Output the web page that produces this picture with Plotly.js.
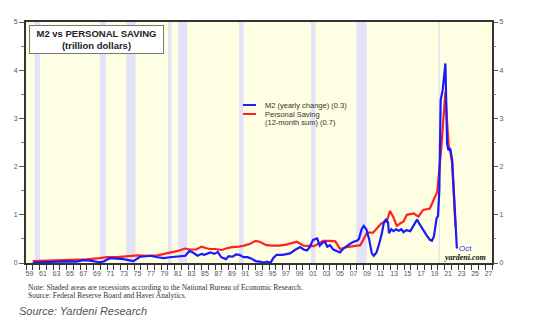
<!DOCTYPE html>
<html>
<head>
<meta charset="utf-8">
<script src="https://cdn.plot.ly/plotly-3.0.1.min.js"></script>
<style>html,body{margin:0;padding:0;background:#fff;}#chart{width:538px;height:336px;}</style>
</head>
<body>
<div id="chart"></div>
<script>
// M2 yearly change (trillion dollars), decimal years
const m2Years = [1960.0,1961.5,1963.0,1965.0,1966.5,1967.5,1968.5,1969.9,1970.5,1971.4,1972.5,1973.4,1974.9,1975.9,1976.8,1977.4,1978.5,1979.4,1980.3,1980.9,1981.7,1982.6,1983.2,1983.7,1984.4,1985.0,1985.4,1986.3,1986.9,1987.4,1987.9,1988.6,1989.0,1989.6,1990.1,1990.6,1991.2,1991.8,1992.4,1993.0,1993.6,1994.2,1994.7,1995.2,1995.6,1996.1,1997.0,1998.1,1998.8,1999.6,2000.1,2000.6,2001.0,2001.5,2002.1,2002.5,2002.9,2003.3,2003.6,2004.0,2004.5,2005.0,2005.5,2006.0,2006.5,2007.0,2007.5,2008.0,2008.3,2008.7,2009.0,2009.4,2009.8,2010.2,2010.5,2010.9,2011.3,2011.7,2012.0,2012.3,2012.6,2012.75,2013.1,2013.4,2013.8,2014.2,2014.6,2014.9,2015.3,2015.9,2016.4,2016.9,2017.3,2017.8,2018.3,2018.8,2019.1,2019.4,2019.6,2019.8,2020.0,2020.2,2020.4,2020.7,2021.1,2021.35,2021.55,2021.8,2022.1,2022.6,2022.8];
const m2Values = [0.01,0.02,0.03,0.035,0.03,0.06,0.05,0.015,0.03,0.10,0.09,0.08,0.04,0.13,0.14,0.15,0.12,0.10,0.12,0.13,0.13,0.15,0.25,0.22,0.15,0.19,0.17,0.22,0.19,0.23,0.12,0.08,0.14,0.13,0.18,0.17,0.12,0.12,0.09,0.04,0.03,0.01,0.03,0.0,0.10,0.17,0.17,0.20,0.27,0.33,0.28,0.26,0.33,0.48,0.51,0.36,0.42,0.44,0.34,0.37,0.28,0.25,0.22,0.30,0.36,0.40,0.44,0.46,0.50,0.70,0.77,0.70,0.50,0.20,0.15,0.22,0.40,0.62,0.85,0.90,0.84,0.62,0.70,0.66,0.70,0.67,0.70,0.64,0.68,0.66,0.78,0.90,0.80,0.68,0.58,0.48,0.46,0.55,0.80,0.93,0.97,1.50,3.38,3.59,4.14,2.48,2.34,2.38,2.14,0.75,0.30];

// Personal saving, 12-month sum (trillion dollars)
const savYears = [1960.0,1962.0,1964.0,1966.0,1968.0,1969.9,1971.0,1972.5,1974.0,1975.5,1977.0,1978.5,1979.8,1980.5,1981.5,1982.5,1983.3,1984.2,1985.0,1985.6,1986.2,1987.0,1988.0,1988.6,1989.5,1990.5,1991.3,1992.2,1993.0,1993.6,1994.6,1995.5,1996.5,1997.5,1998.1,1999.1,2000.1,2001.0,2001.6,2002.3,2003.0,2004.0,2004.8,2005.5,2006.5,2007.5,2008.5,2009.0,2009.5,2010.4,2011.0,2011.6,2012.4,2012.9,2013.4,2013.9,2014.4,2014.9,2015.4,2016.4,2017.1,2017.8,2018.8,2019.3,2019.9,2020.5,2020.8,2021.1,2021.3,2021.6,2021.8,2022.1,2022.6];
const savValues = [0.04,0.045,0.05,0.065,0.075,0.10,0.12,0.12,0.14,0.16,0.15,0.16,0.20,0.22,0.25,0.30,0.28,0.28,0.34,0.31,0.29,0.29,0.27,0.30,0.33,0.34,0.36,0.40,0.46,0.44,0.37,0.36,0.36,0.38,0.40,0.44,0.36,0.36,0.35,0.40,0.46,0.46,0.45,0.29,0.33,0.35,0.37,0.50,0.63,0.63,0.72,0.82,0.86,1.08,0.95,0.77,0.82,0.86,1.00,1.03,0.96,1.10,1.13,1.30,1.48,2.41,3.04,3.55,3.04,2.41,2.34,2.07,0.75];

// NBER recessions (decimal years)
const recStart = [1960.3,1969.95,1973.85,1980.05,1981.55,1990.55,2001.2,2007.9,2020.1];
const recEnd   = [1961.1,1970.85,1975.2,1980.55,1982.85,1991.2,2001.85,2009.45,2020.3];

// X tick labels (two-digit years)
const labelYears = [];
for (let y = 1959; y <= 2027; y += 2) labelYears.push(y);
const labelText = labelYears.map(y => String(y % 100).padStart(2, '0'));
const yTicks = [0,1,2,3,4,5];

const shapes = [];
for (let i = 0; i < recStart.length; i++) {
  shapes.push({type:'rect', xref:'x', yref:'paper', x0:recStart[i], x1:recEnd[i], y0:0, y1:1,
    fillcolor:'#e2e2f8', line:{width:0}, layer:'below'});
}
labelYears.forEach(y => {
  shapes.push({type:'line', xref:'x', yref:'y', ysizemode:'pixel', yanchor:0,
    x0:y, x1:y+1, y0:-5, y1:-5, line:{color:'#333', width:1}});
});
// legend samples
shapes.push({type:'line', xref:'paper', yref:'paper', x0:(243-26)/466, x1:(256-26)/466, y0:(263-105)/241, y1:(263-105)/241, line:{color:'#2020ff', width:2}});
shapes.push({type:'line', xref:'paper', yref:'paper', x0:(243-26)/466, x1:(256-26)/466, y0:(263-114)/241, y1:(263-114)/241, line:{color:'#ff2020', width:2}});

const px = x => (x-26)/466;
const py = y => (263-y)/241;

const annotations = [
  {xref:'paper', yref:'paper', x:px(29), y:py(25), xanchor:'left', yanchor:'top', showarrow:false,
   text:'<b>M2 vs PERSONAL SAVING</b><br><b>(trillion dollars)</b>', align:'center',
   font:{family:'Liberation Sans, Arial, sans-serif', size:9.5, color:'#222'},
   bgcolor:'#ffffff', bordercolor:'#777', borderwidth:1, borderpad:2, width:129},
  {xref:'paper', yref:'paper', x:px(263), y:py(105), xanchor:'left', yanchor:'middle', showarrow:false,
   text:'M2 (yearly change) (0.3)', font:{family:'Liberation Sans, Arial, sans-serif', size:7.5, color:'#333'}},
  {xref:'paper', yref:'paper', x:px(263), y:py(114), xanchor:'left', yanchor:'middle', showarrow:false,
   text:'Personal Saving', font:{family:'Liberation Sans, Arial, sans-serif', size:7.5, color:'#333'}},
  {xref:'paper', yref:'paper', x:px(263), y:py(122.5), xanchor:'left', yanchor:'middle', showarrow:false,
   text:'(12-month sum) (0.7)', font:{family:'Liberation Sans, Arial, sans-serif', size:7.5, color:'#333'}},
  {xref:'paper', yref:'paper', x:px(457), y:py(248.5), xanchor:'left', yanchor:'middle', showarrow:false,
   text:'Oct', font:{family:'Liberation Sans, Arial, sans-serif', size:8, color:'#3030ff'}},
  {xref:'paper', yref:'paper', x:px(488), y:py(257.5), xanchor:'right', yanchor:'middle', showarrow:false,
   text:'<b><i>yardeni.com</i></b>', font:{family:'Liberation Serif, Times New Roman, serif', size:8, color:'#111'}},
  {xref:'paper', yref:'paper', x:px(26), y:py(287.5), xanchor:'left', yanchor:'middle', showarrow:false,
   text:'Note: Shaded areas are recessions according to the National Bureau of Economic Research.',
   font:{family:'Liberation Serif, Times New Roman, serif', size:7.5, color:'#333'}},
  {xref:'paper', yref:'paper', x:px(26), y:py(295), xanchor:'left', yanchor:'middle', showarrow:false,
   text:'Source: Federal Reserve Board and Haver Analytics.',
   font:{family:'Liberation Serif, Times New Roman, serif', size:7.5, color:'#333'}},
  {xref:'paper', yref:'paper', x:px(17), y:py(311), xanchor:'left', yanchor:'middle', showarrow:false,
   text:'<i>Source: Yardeni Research</i>',
   font:{family:'Liberation Sans, Arial, sans-serif', size:11, color:'#555'}}
];

const traces = [
  {x:savYears, y:savValues, type:'scatter', mode:'lines', line:{color:'#ff2020', width:2.2}, showlegend:false, hoverinfo:'skip'},
  {x:m2Years, y:m2Values, type:'scatter', mode:'lines', line:{color:'#1a1aff', width:2.2}, showlegend:false, hoverinfo:'skip'},
  {x:[2000], y:[0], type:'scatter', mode:'markers', marker:{opacity:0}, yaxis:'y2', showlegend:false, hoverinfo:'skip'}
];

const tickFont = {family:'Liberation Sans, Arial, sans-serif', size:7, color:'#555'};

const layout = {
  width:538, height:336,
  margin:{l:26, r:46, t:22, b:73, pad:0},
  paper_bgcolor:'#ffffff', plot_bgcolor:'#fefee2',
  showlegend:false,
  xaxis:{range:[1959,2028], tickmode:'array', tickvals:labelYears.map(y => y+0.5), ticktext:labelText,
    ticks:'outside', ticklen:3, tickcolor:'rgba(0,0,0,0)', tickfont:tickFont,
    minor:{tickmode:'linear', tick0:1959, dtick:1, ticks:'outside', ticklen:5, tickcolor:'#333', tickwidth:1},
    showgrid:false, zeroline:false, showline:true, linecolor:'#333', linewidth:2, mirror:true, fixedrange:true},
  yaxis:{range:[0,5], tickmode:'array', tickvals:yTicks, ticks:'outside', ticklen:5, tickcolor:'#555', tickfont:tickFont,
    minor:{dtick:0.5, ticks:'outside', ticklen:3, tickcolor:'#777'},
    showgrid:false, zeroline:false, showline:true, linecolor:'#333', linewidth:2, mirror:true, fixedrange:true},
  yaxis2:{range:[0,5], overlaying:'y', side:'right', tickmode:'array', tickvals:yTicks, ticks:'outside', ticklen:5, tickcolor:'#555', tickfont:tickFont,
    minor:{dtick:0.5, ticks:'outside', ticklen:3, tickcolor:'#777'},
    showgrid:false, zeroline:false, showline:false, fixedrange:true},
  shapes:shapes,
  annotations:annotations
};

Plotly.newPlot('chart', traces, layout, {displayModeBar:false, staticPlot:true});
</script>
</body>
</html>
